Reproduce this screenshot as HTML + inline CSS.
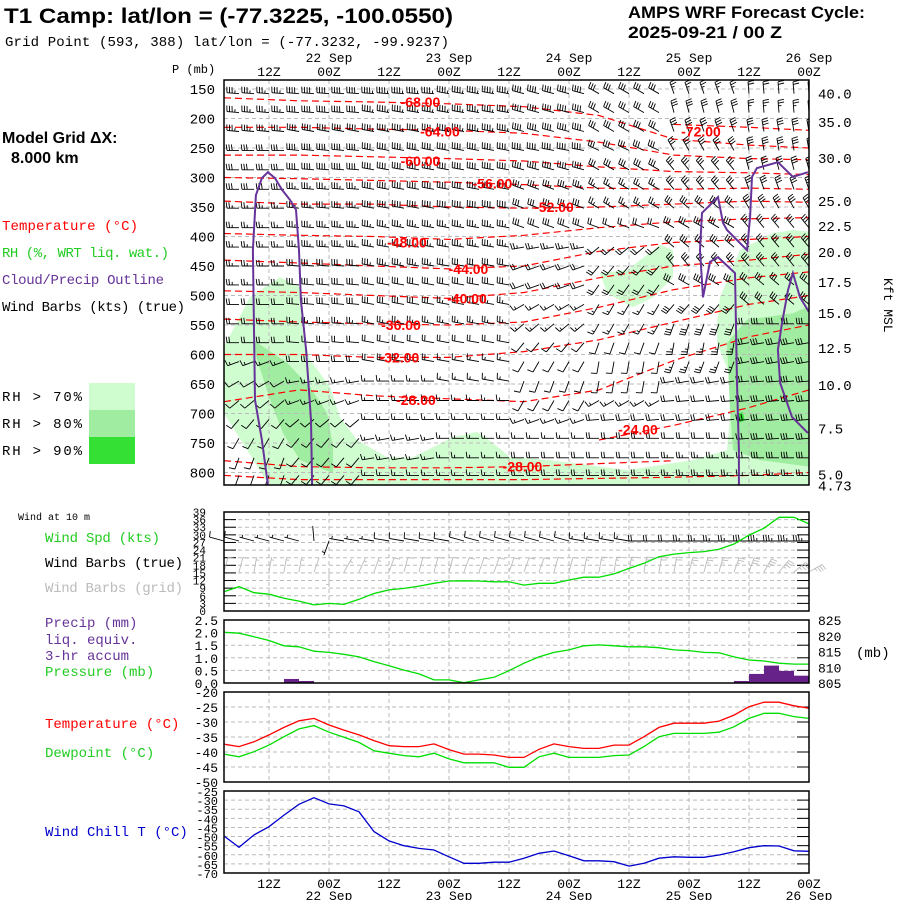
<!DOCTYPE html>
<html><head><meta charset="utf-8"><style>
html,body{margin:0;padding:0;background:#fff;}
svg{display:block;}
.m{font-family:"Liberation Mono",monospace;}
.b{font-family:"Liberation Sans",sans-serif;font-weight:bold;}
</style></head><body>
<svg id="chart" width="900" height="900" viewBox="0 0 900 900" xmlns="http://www.w3.org/2000/svg">
<rect x="0" y="0" width="900" height="900" fill="#fff"/>
<text x="4" y="23" class="b" font-size="21" textLength="449" lengthAdjust="spacingAndGlyphs">T1 Camp:  lat/lon = (-77.3225, -100.0550)</text>
<text x="5" y="46" class="m" font-size="14" textLength="444">Grid Point (593, 388) lat/lon = (-77.3232, -99.9237)</text>
<text x="628" y="18" class="b" font-size="17" textLength="237" lengthAdjust="spacingAndGlyphs">AMPS WRF Forecast Cycle:</text>
<text x="628" y="38" class="b" font-size="17" textLength="154" lengthAdjust="spacingAndGlyphs">2025-09-21 / 00  Z</text>
<text x="2" y="143" class="b" font-size="16">Model Grid ΔX:</text>
<text x="11" y="163" class="b" font-size="16">8.000 km</text>
<text x="2" y="230" class="m" font-size="14" textLength="136" fill="#ff0000">Temperature (°C)</text>
<text x="2" y="257" class="m" font-size="14" textLength="167" fill="#22cc22">RH (%, WRT liq. wat.)</text>
<text x="2" y="284" class="m" font-size="14" textLength="162" fill="#663399">Cloud/Precip Outline</text>
<text x="2" y="311" class="m" font-size="14" textLength="183" fill="#000">Wind Barbs (kts) (true)</text>
<text x="2" y="401" class="m" font-size="14" textLength="80">RH &gt; 70%</text>
<text x="2" y="428" class="m" font-size="14" textLength="80">RH &gt; 80%</text>
<text x="2" y="455" class="m" font-size="14" textLength="80">RH &gt; 90%</text>
<rect x="89" y="383" width="46" height="27" fill="#d0fdd0"/>
<rect x="89" y="410" width="46" height="27" fill="#a0eca0"/>
<rect x="89" y="437" width="46" height="27" fill="#33e033"/>
<text x="172" y="73" class="m" font-size="12">P (mb)</text>
<text x="0" y="0" class="m" font-size="13" transform="translate(884,278) rotate(90)">Kft MSL</text>
<text x="18" y="520" class="m" font-size="10">Wind at 10 m</text>
<text x="45" y="542" class="m" font-size="14" textLength="115" fill="#22cc22">Wind Spd (kts)</text>
<text x="45" y="567" class="m" font-size="14" textLength="138" fill="#000">Wind Barbs (true)</text>
<text x="45" y="592" class="m" font-size="14" textLength="138" fill="#bbbbbb">Wind Barbs (grid)</text>
<text x="45" y="627" class="m" font-size="14" fill="#663399">Precip (mm)</text>
<text x="45" y="644" class="m" font-size="14" fill="#663399">liq. equiv.</text>
<text x="45" y="660" class="m" font-size="14" fill="#663399">3-hr accum</text>
<text x="45" y="676" class="m" font-size="14" fill="#22cc22">Pressure (mb)</text>
<text x="856" y="657" class="m" font-size="14">(mb)</text>
<text x="45" y="728" class="m" font-size="14" fill="#ff0000">Temperature (°C)</text>
<text x="45" y="757" class="m" font-size="14" fill="#22cc22">Dewpoint (°C)</text>
<text x="45" y="836" class="m" font-size="14" fill="#0000cc">Wind Chill T (°C)</text>
<g id="layer"></g>
</svg>
<script>
// ---------- data ----------
const timeLabels = ["12Z","00Z","12Z","00Z","12Z","00Z","12Z","00Z","12Z","00Z"];
const dateLabels = ["22 Sep","23 Sep","24 Sep","25 Sep","26 Sep"];
const pressureTicks = [150,200,250,300,350,400,450,500,550,600,650,700,750,800];
const kftLabels = ["40.0","35.0","30.0","25.0","22.5","20.0","17.5","15.0","12.5","10.0","7.5","5.0","4.73"];
const kftPressures = [158,206,267,340,382,426,477,530,589,652,725,803,822];
const sfcTemp = [-37.4,-38.2,-36.6,-34.3,-31.8,-29.6,-28.8,-31,-32.7,-34.3,-36.2,-37.9,-38.2,-38.2,-37.3,-39.2,-40.7,-40.7,-41,-41.8,-41.8,-39.1,-37.3,-38.2,-38.8,-38.8,-37.7,-37.7,-34.9,-31.8,-30.4,-30.4,-30.4,-29.7,-27.7,-24.9,-23.4,-23.4,-24.6,-25.4];
const dewpoint = [-40.7,-41.6,-39.9,-37.7,-34.9,-32.3,-31.2,-33.4,-35.1,-36.8,-39.6,-40.4,-41.2,-41.6,-40.4,-42.3,-43.6,-43.6,-43.6,-45.1,-45.1,-41.6,-40.4,-41.8,-41.8,-41.8,-41.2,-41,-38.2,-34.9,-33.8,-33.8,-33.8,-33.4,-31.6,-28.8,-27.1,-27.1,-28.2,-28.8];
const windChill = [-49.7,-55.9,-49.1,-44.6,-38.2,-32.3,-28.7,-32.1,-33.2,-36.4,-47.3,-52.4,-55,-56.5,-57.4,-61.1,-64.7,-64.7,-64.1,-64.1,-61.9,-59.2,-57.9,-60.5,-63.3,-63.3,-63.8,-66.2,-64.7,-61.9,-61.1,-61.4,-61.4,-60.1,-58.3,-56.1,-55,-55.2,-57.8,-58.1];
const windSpd = [7.6,9.6,7.2,6.6,5,3.9,2.4,3,2.6,4.6,6.9,8.3,8.9,9.8,10.9,11.8,11.9,11.8,11.5,11.5,10.2,10.9,10.9,12.2,13.3,13.3,14.6,16.8,18.8,21.4,22.4,23,23.4,24.3,26.4,29.9,32.6,36.9,36.9,34.3];
const trueDir = [285,285,285,285,285,285,355,200,280,280,280,280,280,280,280,280,285,285,285,285,285,285,285,285,280,280,280,280,270,270,270,270,270,270,270,270,270,270,270,270];
const gridDir = [15,15,10,10,10,10,20,180,30,25,20,20,15,15,15,15,20,20,20,20,20,20,15,15,10,10,10,10,10,10,10,15,15,15,20,20,30,40,50,60];
const sfcPressure = [821.1,820.8,819.7,818.5,816.8,816.5,815.1,814.7,814.1,813.3,811.8,810.5,809.1,807.9,806,806,805.1,806,806.8,808.9,811.3,813.3,814.7,815.5,816.8,817.1,816.8,816.5,816.5,816.2,815.5,815.3,814.7,814.6,813.3,812.3,812,811.3,811,811];
const precip = [0,0,0,0,0,0.16,0.08,0,0,0,0,0,0,0,0,0,0,0,0,0,0,0,0,0,0,0,0,0,0,0,0,0,0,0,0,0.08,0.36,0.69,0.48,0.29];
const windTicks = [0,3,6,9,12,15,18,21,24,27,30,33,36,39];
const precipTicks = [0,0.5,1,1.5,2,2.5];
const pressTicks = [805,810,815,820,825];
const tempTicks = [-20,-25,-30,-35,-40,-45,-50];
const chillTicks = [-25,-30,-35,-40,-45,-50,-55,-60,-65,-70];
// upper-air winds: rows of pressure, 8 time-blocks (5 steps each)
const rowP = [158,190,222,254,287,320,352,385,418,450,482,515,548,580,612,645,678,710,742,775,805];
const rowDir = [
[275,275,275,280,285,300,340,355],[275,275,280,280,285,300,345,355],[275,280,280,280,285,300,340,350],
[270,275,280,280,280,295,330,350],[270,275,280,280,285,300,320,345],[270,275,280,280,290,300,320,340],
[270,275,280,280,290,300,310,330],[270,275,280,280,290,290,300,320],[270,275,280,280,260,230,310,320],
[270,275,280,280,250,220,320,320],[270,275,280,280,250,215,300,310],[270,275,280,280,240,210,220,310],
[270,275,280,280,230,210,200,270],[270,275,280,280,220,200,190,260],[250,270,280,280,210,190,200,260],
[240,260,270,280,200,190,260,265],[230,250,270,270,210,240,265,265],[220,230,270,270,250,265,265,265],
[210,220,260,270,270,270,270,265],[200,220,260,270,270,270,270,270],[200,220,270,270,270,270,270,270]];
const rowSpd = [
[35,40,45,45,40,30,25,20],[35,40,45,45,40,30,30,25],[35,40,45,45,40,30,30,30],[30,40,40,40,40,30,30,30],
[30,40,40,40,40,30,30,30],[30,35,40,40,35,25,30,30],[25,35,40,40,30,25,30,30],[25,35,35,35,30,20,30,30],
[25,35,35,35,25,20,30,30],[25,30,35,30,20,20,30,30],[25,30,30,30,20,20,30,30],[20,30,30,25,15,15,30,30],
[20,25,25,25,15,15,30,30],[20,20,20,20,10,10,25,30],[15,20,20,15,10,10,25,30],[10,15,15,15,10,10,20,30],
[10,15,15,15,10,15,20,30],[10,10,15,15,15,20,20,30],[10,10,15,15,15,20,20,30],[10,10,15,15,20,20,25,30],[10,10,15,15,20,20,25,25]];
// isotherms: pressure at time nodes
const isoNodes = [0,5,10,15,20,25,30,35,39];
const isoLevels = [-72,-68,-64,-60,-56,-52,-48,-44,-40,-36,-32,-28,-24,-28,-30];
const isoP = [
[null,null,null,null,null,null,210,215,220],
[165,170,172,175,180,195,235,245,250],
[215,215,218,220,225,240,262,268,270],
[262,262,265,268,272,282,290,292,295],
[300,302,305,308,312,318,320,318,320],
[340,345,345,350,352,350,345,340,342],
[395,398,400,405,398,385,375,370,368],
[440,445,450,455,450,425,410,405,400],
[492,495,500,505,495,470,450,440,430],
[540,545,548,550,545,520,490,470,460],
[600,600,605,605,595,575,545,515,500],
[680,660,670,675,680,660,610,570,550],
[null,null,null,null,null,745,720,690,660],
[780,790,792,792,790,785,780,null,null],
[805,812,812,812,812,810,808,805,800]];
const isoLabelText = ["-68.00","-64.00","-60.00","-56.00","-52.00","-48.00","-44.00","-40.00","-36.00","-32.00","-28.00","-24.00","-28.00","-72.00"];
const isoLabelI = [13.1,14.4,13.1,17.9,22,12.2,16.3,16.2,11.8,11.7,12.8,27.6,19.9,31.8];
const isoLabelP = [172,222,272,310,350,410,455,505,550,605,677,727,790,222];
// RH shading polygons [timeIndex, pressure]
const rh70a = [[0,587],[1.73,503],[3.73,469],[5.07,486],[5.27,564],[5.73,609],[7.07,655],[7.73,706],[8.87,745],[10.87,774],[12.6,774],[15.27,740],[16.87,731],[17.93,750],[19.07,774],[21.73,779],[26.87,796],[31.27,779],[33.53,762],[39,760],[39,822],[3,822],[1.5,760],[0,700]];
const rh70b = [[25.07,462],[26.87,457],[29.07,414],[29.93,423],[29.93,469],[28.6,503],[27.27,520],[25.53,496]];
const rh70c = [[34.4,423],[36.6,394],[37.93,389],[39,392],[39,800],[33.53,762],[33.73,706],[33.93,648],[32.87,581],[32.87,547],[33.07,503]];
const rh80a = [[1.93,575],[4.2,614],[5.73,655],[6.87,699],[7.27,757],[7.27,801],[5.07,779],[3.93,733],[3.07,677],[2.2,609]];
const rh80b = [[33.53,580],[34.87,541],[37.93,530],[38.93,519],[39,790],[35.73,779],[33.93,762],[33.73,694]];
const rh90a = [[34.2,700],[34.6,698],[34.7,712],[34.3,716]];
// cloud outlines
const cloud1 = [[2.93,821],[2.53,745],[2.07,677],[2,558],[1.93,423],[2.13,330],[2.53,301],[2.93,291],[3.4,301],[3.87,321],[4.4,338],[4.8,355],[5,423],[5.13,508],[5.47,592],[5.8,711],[5.87,821]];
const cloud2 = [[34.33,821],[34.33,762],[34.2,648],[34.07,462],[32.93,435],[32.4,443],[31.93,503],[31.73,423],[31.87,360],[32.93,333],[33.27,377],[33.53,389],[34.87,423],[35.07,367],[35.2,299],[35.53,284],[36.93,274],[37.93,299],[38.93,291]];
const cloud3 = [[39,528],[38.4,503],[37.93,462],[37.6,491],[37.2,547],[36.93,592],[37.07,648],[37.87,706],[38.93,733]];

// ---------- axes ----------
const X0=224, X1=809;
const xT = i => X0 + i*(X1-X0)/39;
const yP = p => 89 + (p-150)*0.59;
const yW = v => 611 - v*(99/39);
const yPr = v => 683 - v*(63/2.5);
const yPs = v => 683 - (v-805)*(63/20);
const yTe = v => 692 + (-20 - v)*3;
const yWc = v => 791 + (-25 - v)*(82/45);
const NS="http://www.w3.org/2000/svg";
const layer=document.getElementById('layer');
function mk(tag, attrs, parent){ const e=document.createElementNS(NS,tag); for(const k in attrs) e.setAttribute(k,attrs[k]); (parent||layer).appendChild(e); return e; }
function txt(x,y,s,size,anchor,fill,parent){ const e=mk('text',{x:x,y:y,'font-size':size,'text-anchor':anchor,fill:fill||'#000','font-family':'Liberation Mono, monospace'},parent); e.textContent=s; return e; }

const panels=[[80,485],[512,611],[620,683],[692,782],[791,873]];
const defs=mk('defs',{});
const cp=mk('clipPath',{id:'cu'},defs);
mk('rect',{x:X0,y:80,width:X1-X0,height:405},cp);
const up=mk('g',{'clip-path':'url(#cu)'});



function poly(arr, fill, name){
  const pts=arr.map(d=>xT(d[0]).toFixed(1)+','+yP(d[1]).toFixed(1)).join(' ');
  const e=mk('polygon',{points:pts,fill:fill,stroke:'none'},up);
  
  
}
poly(rh70a,'#d0fdd0','rh70-region-left');
poly(rh70b,'#d0fdd0','rh70-region-mid');
poly(rh70c,'#d0fdd0','rh70-region-right');
poly(rh80a,'#a0eca0','rh80-region-left');
poly(rh80b,'#a0eca0','rh80-region-right');
poly(rh90a,'#33e033','rh90-region');

function vgrid(top,bot,parent){ for(let k=0;k<timeLabels.length;k++){ const x=X0+45+60*k; if(x>=X1) continue; const e=mk('line',{x1:x,y1:top,x2:x,y2:bot,stroke:'#bbb','stroke-dasharray':'4,3','stroke-width':1},parent);   } }
vgrid(80,485,up);
pressureTicks.forEach(p=>{ const y=yP(p);
  const g=mk('line',{x1:X0,y1:y,x2:X1,y2:y,stroke:'#bbb','stroke-dasharray':'4,3'},up);
  
  
  const t=txt(215,y+5,String(p),14,'end');
  
  
});
kftLabels.forEach((s,k)=>{ const y=yP(kftPressures[k]);
  const t=txt(818,y+5,s,14,'start');
  
  
});

isoP.forEach((arr,li)=>{
  let d='', pen=false;
  arr.forEach((p,k)=>{ if(p===null){pen=false;return;} d+=(pen?'L':'M')+xT(isoNodes[k]).toFixed(1)+','+yP(p).toFixed(1); pen=true; });
  const e=mk('path',{d:d,fill:'none',stroke:'#ff0000','stroke-width':1.2,'stroke-dasharray':'7,4'},up);
  
  
});

function barb(parent,x,y,dir,spd,L,color,name){
  const r=dir*Math.PI/180, ux=Math.sin(r), uy=-Math.cos(r), px=-uy, py=ux;
  const tx=x+ux*L, ty=y+uy*L;
  let d='M'+x.toFixed(1)+','+y.toFixed(1)+'L'+tx.toFixed(1)+','+ty.toFixed(1);
  let s=Math.round(spd/5)*5, pos=0, pen='';
  while(s>=50){ const ax=tx-ux*pos, ay=ty-uy*pos, bx=tx-ux*(pos+4), by=ty-uy*(pos+4);
    pen+='M'+ax.toFixed(1)+','+ay.toFixed(1)+'L'+(ax+px*6).toFixed(1)+','+(ay+py*6).toFixed(1)+'L'+bx.toFixed(1)+','+by.toFixed(1)+'Z'; pos+=5; s-=50; }
  while(s>=10){ const ax=tx-ux*pos, ay=ty-uy*pos;
    d+='M'+ax.toFixed(1)+','+ay.toFixed(1)+'L'+(ax+px*6+ux*0.8).toFixed(1)+','+(ay+py*6+uy*0.8).toFixed(1); pos+=2.6; s-=10; }
  if(s>=5){ if(pos===0) pos=2.6; const ax=tx-ux*pos, ay=ty-uy*pos;
    d+='M'+ax.toFixed(1)+','+ay.toFixed(1)+'L'+(ax+px*3).toFixed(1)+','+(ay+py*3).toFixed(1); }
  const e=mk('path',{d:d+pen,fill:pen?color:'none',stroke:color,'stroke-width':0.9},parent);
  
  
}
rowP.forEach((p,ri)=>{
  for(let i=0;i<40;i++){ const b=Math.min(7,Math.floor(i/5));
    barb(up,xT(i),yP(p),rowDir[ri][b],rowSpd[ri][b],12,'#000','upper-wind-barb'); }
});

[cloud1,cloud2,cloud3].forEach((c,k)=>{
  const e=mk('polyline',{points:c.map(d=>xT(d[0]).toFixed(1)+','+yP(d[1]).toFixed(1)).join(' '),fill:'none',stroke:'#663399','stroke-width':2},up);
  
  
});
isoLabelText.forEach((s,k)=>{
  const t=mk('text',{x:xT(isoLabelI[k]),y:yP(isoLabelP[k])+5,'font-size':14,'text-anchor':'middle',fill:'#ff0000','font-family':'Liberation Sans, sans-serif','font-weight':'bold'},up);
  t.textContent=s;
  
  
});

timeLabels.forEach((s,k)=>{ const x=X0+45+60*k;
  const a=txt(x,76,s,13,'middle');  
  const b=txt(x,888,s,13,'middle');  
});
dateLabels.forEach((s,k)=>{ const x=X0+105+120*k;
  const a=txt(x,62,s,13,'middle');  
  const b=txt(x,900,s,13,'middle');  
});

function hgrid(vals,fy,top,bot,name){ vals.forEach(v=>{ const y=fy(v); if(y<=top+0.5||y>=bot-0.5) return;
  const g=mk('line',{x1:X0,y1:y,x2:X1,y2:y,stroke:'#bbb','stroke-dasharray':'4,3'});  
  const t=mk('line',{x1:X1-12,y1:y,x2:X1,y2:y,stroke:'#000'});  
}); }
[[512,611],[620,683],[692,782],[791,873]].forEach(b=>vgrid(b[0],b[1]));
hgrid(windTicks,yW,512,611,'wind');
hgrid(precipTicks,yPr,620,683,'precip');
hgrid(tempTicks,yTe,692,782,'temp');
hgrid(chillTicks,yWc,791,873,'chill');
windTicks.forEach(v=>{ const t=txt(206,yW(v)+4,String(v),11,'end');  
  const l=mk('line',{x1:X0,y1:yW(v),x2:X0+12,y2:yW(v),stroke:'#000'});   });
precipTicks.forEach(v=>{ const t=txt(218,yPr(v)+5,v.toFixed(1),13,'end');   });
pressTicks.forEach(v=>{ const t=txt(818,yPs(v)+5,String(v),13,'start');   });
tempTicks.forEach(v=>{ const t=txt(218,yTe(v)+5,String(v),13,'end');   });
chillTicks.forEach(v=>{ const t=txt(218,yWc(v)+5,String(v),12,'end');   });

precip.forEach((v,i)=>{ if(v<=0) return;
  const r=mk('rect',{x:xT(i-1),y:yPr(v),width:xT(i)-xT(i-1),height:683-yPr(v),fill:'#662288'});
  
  
});
function line(arr,fy,color,name){
  const e=mk('polyline',{points:arr.map((v,i)=>xT(i).toFixed(1)+','+fy(v).toFixed(1)).join(' '),fill:'none',stroke:color,'stroke-width':1.3});
  
  
}
for(let i=0;i<40;i++){
  barb(layer,xT(i),572,gridDir[i],windSpd[i],15,'#bbbbbb','grid-wind-barb');
  barb(layer,xT(i),541,trueDir[i],windSpd[i],15,'#000','true-wind-barb');
}
line(windSpd,yW,'#00dd00','wind-speed-line');
line(sfcPressure,yPs,'#00dd00','surface-pressure-line');
line(sfcTemp,yTe,'#ff0000','temperature-line');
line(dewpoint,yTe,'#00dd00','dewpoint-line');
line(windChill,yWc,'#0000cc','wind-chill-line');

panels.forEach((b,k)=>{ const r=mk('rect',{x:X0,y:b[0],width:X1-X0,height:b[1]-b[0],fill:'none',stroke:'#000','stroke-width':1.5});
  
   });
</script>
</body></html>
